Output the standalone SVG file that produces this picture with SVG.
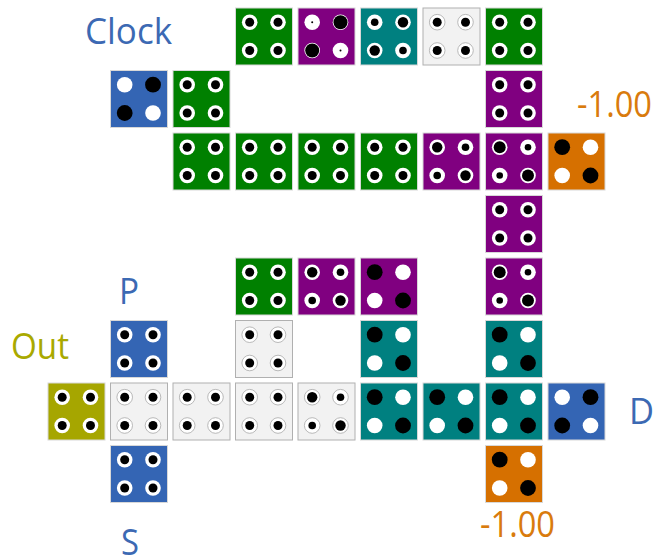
<svg xmlns="http://www.w3.org/2000/svg" width="665" height="560" viewBox="0 0 665 560">
<style>
text{font-family:"Open Sans","Noto Sans","Liberation Sans",sans-serif;font-size:36px}
.tb{fill:#3c69b3}.to{fill:#d97b0d}.ty{fill:#a9a900}
rect{width:57px;height:57px;stroke:#d8d8d8;stroke-width:1}
.green rect{fill:#008000}.purple rect{fill:#800080}.teal rect{fill:#008080}
.light rect{fill:#f2f2f2;stroke:#b0b0b0}.blue rect{fill:#3465b4}.orange rect{fill:#d67000}.olive rect{fill:#a6a600}
.w{fill:#fff}.k{fill:#000;stroke:none}
.light{stroke:#a8a8a8;stroke-width:.8}
</style>
<defs>
<g id="h">
<circle class="w" cx="14.2" cy="14.2" r="7.8"/><circle class="w" cx="42.5" cy="14.2" r="7.8"/><circle class="w" cx="14.2" cy="42.5" r="7.8"/><circle class="w" cx="42.5" cy="42.5" r="7.8"/>
</g>
<g id="a"><use href="#h"/>
<circle class="k" cx="14.2" cy="14.2" r="4.5"/><circle class="k" cx="42.5" cy="14.2" r="4.5"/><circle class="k" cx="14.2" cy="42.5" r="4.5"/><circle class="k" cx="42.5" cy="42.5" r="4.5"/>
</g>
<g id="b"><use href="#h"/>
<circle class="k" cx="14.2" cy="14.2" r="6"/><circle class="k" cx="42.5" cy="14.2" r="3.3"/><circle class="k" cx="14.2" cy="42.5" r="3.3"/><circle class="k" cx="42.5" cy="42.5" r="6"/>
</g>
<g id="m"><use href="#h"/>
<circle class="k" cx="14.2" cy="14.2" r="5.2"/><circle class="k" cx="42.5" cy="14.2" r="3.8"/><circle class="k" cx="14.2" cy="42.5" r="3.8"/><circle class="k" cx="42.5" cy="42.5" r="5.2"/>
</g>
<g id="f"><use href="#h"/>
<circle class="k" cx="14.2" cy="14.2" r="3.8"/><circle class="k" cx="42.5" cy="14.2" r="5.2"/><circle class="k" cx="14.2" cy="42.5" r="5.2"/><circle class="k" cx="42.5" cy="42.5" r="3.8"/>
</g>
<g id="c">
<circle class="k" cx="14.2" cy="14.2" r="7.9"/><circle class="w" cx="42.5" cy="14.2" r="7.8"/><circle class="w" cx="14.2" cy="42.5" r="7.8"/><circle class="k" cx="42.5" cy="42.5" r="7.9"/>
</g>
<g id="d">
<circle class="w" cx="14.2" cy="14.2" r="7.8"/><circle class="k" cx="42.5" cy="14.2" r="7.9"/><circle class="k" cx="14.2" cy="42.5" r="7.9"/><circle class="w" cx="42.5" cy="42.5" r="7.8"/>
</g>
<g id="e"><use href="#h"/>
<circle class="k" cx="14.2" cy="14.2" r="1"/><circle class="k" cx="42.5" cy="14.2" r="7"/><circle class="k" cx="14.2" cy="42.5" r="7"/><circle class="k" cx="42.5" cy="42.5" r="1"/>
</g>
</defs>
<g id="labels">
<text class="tb" x="85" y="43.5" textLength="87" lengthAdjust="spacingAndGlyphs">Clock</text>
<text class="to" x="577" y="117" textLength="75" lengthAdjust="spacingAndGlyphs">-1.00</text>
<text class="tb" x="119" y="304" textLength="20" lengthAdjust="spacingAndGlyphs">P</text>
<text class="ty" x="11" y="358.5" textLength="58" lengthAdjust="spacingAndGlyphs">Out</text>
<text class="tb" x="629" y="424" textLength="25" lengthAdjust="spacingAndGlyphs">D</text>
<text class="to" x="480" y="536.5" textLength="75" lengthAdjust="spacingAndGlyphs">-1.00</text>
<text class="tb" x="121" y="555" textLength="18" lengthAdjust="spacingAndGlyphs">S</text>
</g>
<g id="connectors"/>
<g id="r0c3" class="green" transform="translate(235.5 8)"><rect/><use href="#a"/></g>
<g id="r0c4" class="purple" transform="translate(298 8)"><rect/><use href="#e"/></g>
<g id="r0c5" class="teal" transform="translate(360.5 8)"><rect/><use href="#f"/></g>
<g id="r0c6" class="light" transform="translate(423 8)"><rect/><use href="#a"/></g>
<g id="r0c7" class="green" transform="translate(485.5 8)"><rect/><use href="#a"/></g>
<g id="r1c1" class="blue" transform="translate(110.5 70.5)"><rect/><use href="#d"/></g>
<g id="r1c2" class="green" transform="translate(173 70.5)"><rect/><use href="#a"/></g>
<g id="r1c7" class="purple" transform="translate(485.5 70.5)"><rect/><use href="#a"/></g>
<g id="r2c2" class="green" transform="translate(173 133)"><rect/><use href="#a"/></g>
<g id="r2c3" class="green" transform="translate(235.5 133)"><rect/><use href="#a"/></g>
<g id="r2c4" class="green" transform="translate(298 133)"><rect/><use href="#a"/></g>
<g id="r2c5" class="green" transform="translate(360.5 133)"><rect/><use href="#a"/></g>
<g id="r2c6" class="purple" transform="translate(423 133)"><rect/><use href="#m"/></g>
<g id="r2c7" class="purple" transform="translate(485.5 133)"><rect/><use href="#b"/></g>
<g id="r2c8" class="orange" transform="translate(548 133)"><rect/><use href="#c"/></g>
<g id="r3c7" class="purple" transform="translate(485.5 195.5)"><rect/><use href="#a"/></g>
<g id="r4c3" class="green" transform="translate(235.5 258)"><rect/><use href="#a"/></g>
<g id="r4c4" class="purple" transform="translate(298 258)"><rect/><use href="#m"/></g>
<g id="r4c5" class="purple" transform="translate(360.5 258)"><rect/><use href="#c"/></g>
<g id="r4c7" class="purple" transform="translate(485.5 258)"><rect/><use href="#b"/></g>
<g id="r5c1" class="blue" transform="translate(110.5 320.5)"><rect/><use href="#a"/></g>
<g id="r5c3" class="light" transform="translate(235.5 320.5)"><rect/><use href="#a"/></g>
<g id="r5c5" class="teal" transform="translate(360.5 320.5)"><rect/><use href="#c"/></g>
<g id="r5c7" class="teal" transform="translate(485.5 320.5)"><rect/><use href="#c"/></g>
<g id="r6c0" class="olive" transform="translate(48 383)"><rect/><use href="#a"/></g>
<g id="r6c1" class="light" transform="translate(110.5 383)"><rect/><use href="#a"/></g>
<g id="r6c2" class="light" transform="translate(173 383)"><rect/><use href="#a"/></g>
<g id="r6c3" class="light" transform="translate(235.5 383)"><rect/><use href="#a"/></g>
<g id="r6c4" class="light" transform="translate(298 383)"><rect/><use href="#m"/></g>
<g id="r6c5" class="teal" transform="translate(360.5 383)"><rect/><use href="#c"/></g>
<g id="r6c6" class="teal" transform="translate(423 383)"><rect/><use href="#c"/></g>
<g id="r6c7" class="teal" transform="translate(485.5 383)"><rect/><use href="#c"/></g>
<g id="r6c8" class="blue" transform="translate(548 383)"><rect/><use href="#d"/></g>
<g id="r7c1" class="blue" transform="translate(110.5 445.5)"><rect/><use href="#a"/></g>
<g id="r7c7" class="orange" transform="translate(485.5 445.5)"><rect/><use href="#c"/></g>
</svg>
